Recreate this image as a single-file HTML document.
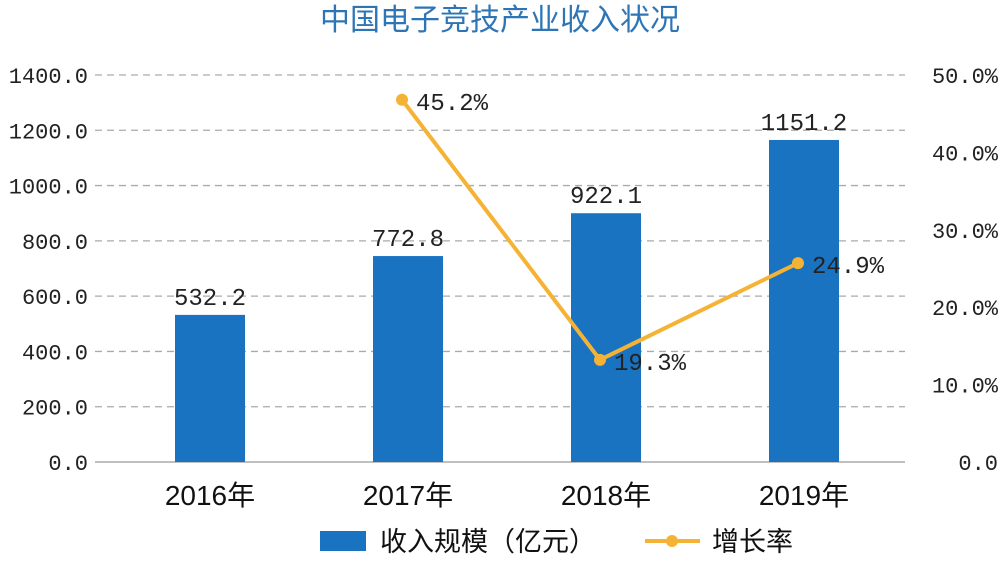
<!DOCTYPE html>
<html><head><meta charset="utf-8"><style>
body{margin:0;background:#fff;}
svg text{font-family:"Liberation Mono","Noto Sans CJK SC",monospace;}
</style></head><body>
<svg width="1000" height="558" viewBox="0 0 1000 558">
<text x="500" y="30" text-anchor="middle" font-size="30" fill="#2e75b6" style="font-family:'Liberation Sans','Noto Sans CJK SC',sans-serif">中国电子竞技产业收入状况</text>
<g id="grid"></g><g id="bars"></g><g id="line"></g><g id="labels"></g>
<g>
<rect x="320" y="531" width="46" height="20" fill="#1a73c0"/>
<text x="380" y="551" font-size="27" fill="#111" style="font-family:'Liberation Sans','Noto Sans CJK SC',sans-serif">收入规模（亿元）</text>
<line x1="645" y1="541" x2="700" y2="541" stroke="#f5b335" stroke-width="4"/>
<circle cx="672" cy="541" r="6" fill="#f5b335"/>
<text x="712" y="551" font-size="27" fill="#111" style="font-family:'Liberation Sans','Noto Sans CJK SC',sans-serif">增长率</text>
</g>
</svg>
<script>
const categories=["2016年","2017年","2018年","2019年"];
const revenue=[532.2,745,900,1165];
const revenueLabels=["532.2","772.8","922.1","1151.2"];
const growth=[null,46.8,13.2,25.7];
const growthLabels=["","45.2%","19.3%","24.9%"];
const leftTicks=["0.0","200.0","400.0","600.0","800.0","1000.0","1200.0","1400.0"];
const rightTicks=["0.0","10.0%","20.0%","30.0%","40.0%","50.0%"];
const NS="http://www.w3.org/2000/svg";
const y0=462,y1=75,plotL=95,plotR=905;
const yL=v=>y0-(v/1400)*(y0-y1);
const yR=v=>y0-(v/50)*(y0-y1);
const xC=i=>210+i*198;
function mk(tag,attrs,parent,text){const e=document.createElementNS(NS,tag);for(const k in attrs)e.setAttribute(k,attrs[k]);if(text!==undefined)e.textContent=text;parent.appendChild(e);return e;}
const grid=document.getElementById('grid'),bars=document.getElementById('bars'),line=document.getElementById('line'),labels=document.getElementById('labels');
leftTicks.forEach((t,i)=>{const v=i*200,y=yL(v);
const g=mk('line',{x1:plotL,x2:plotR,y1:y,y2:y,stroke:i==0?'#999':'#aaa','stroke-width':1.3,'stroke-dasharray':i==0?'':'7,5'},grid);


const tx=mk('text',{x:88,y:y+8,'text-anchor':'end','font-size':22,fill:'#222'},grid,t);

});
rightTicks.forEach((t,i)=>{const y=yR(i*10);
const tx=mk('text',{x:998,y:y+8,'text-anchor':'end','font-size':22,fill:'#222'},grid,t);

});
categories.forEach((c,i)=>{const x=xC(i)-35,y=yL(revenue[i]);
const r=mk('rect',{x:x,y:y,width:70,height:y0-y,fill:'#1a73c0'},bars);


const vl=mk('text',{x:xC(i),y:y-10,'text-anchor':'middle','font-size':24,fill:'#222'},labels,revenueLabels[i]);


const cl=mk('text',{x:xC(i),y:505,'text-anchor':'middle','font-size':28,fill:'#111',style:"font-family:'Liberation Sans','Noto Sans CJK SC',sans-serif"},labels,c);

});
const pts=[];growth.forEach((g,i)=>{if(g!==null)pts.push([xC(i)-6,yR(g),i]);});
const pl=mk('polyline',{points:pts.map(p=>p[0]+','+p[1]).join(' '),fill:'none',stroke:'#f5b335','stroke-width':4},line);


pts.forEach(p=>{const c=mk('circle',{cx:p[0],cy:p[1],r:6,fill:'#f5b335'},line);


const t=mk('text',{x:p[0]+14,y:p[1]+10,'font-size':24,fill:'#222'},labels,growthLabels[p[2]]);

});
</script>
</body></html>
